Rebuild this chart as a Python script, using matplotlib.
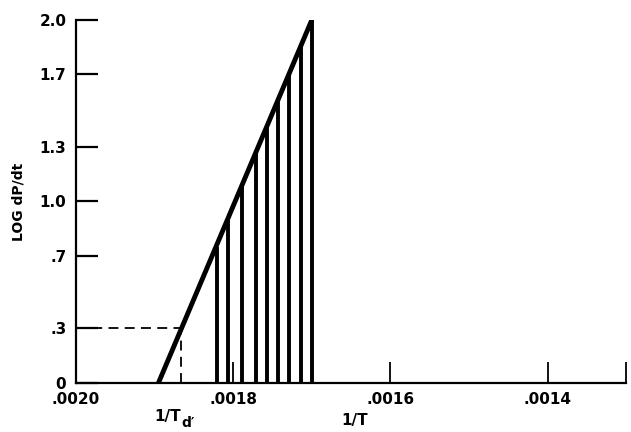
import matplotlib
matplotlib.use("Agg")
import matplotlib.pyplot as plt

# ==========================================
# DATA
# ==========================================

# sloped edge of the triangle (1/T, LOG dP/dt)
edge_x = [0.001895, 0.0017]
edge_y = [0.0, 2.0]

# vertical hatch lines under the edge
hatch_x = [0.001821, 0.001806, 0.001789, 0.001771, 0.001757,
           0.001743, 0.001729, 0.001714, 0.0017]
hatch_top = [0.75, 0.90, 1.08, 1.26, 1.41, 1.55, 1.70, 1.85, 2.0]

# dashed guide to 1/Td'
td_x = 0.001866
td_y = 0.3

x_ticks = [0.0018, 0.0016, 0.0014, 0.0013]
x_labels = [".0020", ".0018", ".0016", ".0014"]
x_label_pos = [0.0020, 0.0018, 0.0016, 0.0014]

y_ticks = [0, 0.3, 0.7, 1.0, 1.3, 1.7, 2.0]
y_labels = ["0", ".3", ".7", "1.0", "1.3", "1.7", "2.0"]

# ==========================================
# FIGURE
# ==========================================

fig = plt.figure(figsize=(6.31, 4.32), dpi=100)
ax = fig.add_axes([0.1204, 0.114, 0.872, 0.8397])

ax.plot(edge_x, edge_y, color="black", lw=3.5, solid_capstyle="butt", zorder=3)
ax.vlines(hatch_x, 0, hatch_top, color="black", lw=2.8, zorder=2)

ax.plot([0.0020, td_x], [td_y, td_y], color="black", lw=1.3,
        ls=(0, (5.5, 3.5)), zorder=1)
ax.plot([td_x, td_x], [0, td_y], color="black", lw=1.3,
        ls=(0, (5.5, 3.5)), zorder=1)

ax.set_xlim(0.0020, 0.0013)
ax.set_ylim(0, 2.0)

for s in ["top", "right"]:
    ax.spines[s].set_visible(False)
for s in ["left", "bottom"]:
    ax.spines[s].set_linewidth(1.6)

# x ticks: short marks pointing up, labels placed separately
ax.set_xticks(x_ticks)
ax.set_xticklabels([])
ax.tick_params(axis="x", direction="in", length=15, width=1.3)
for xv, lab in zip(x_label_pos, x_labels):
    ax.text(xv, -0.05, lab, ha="center", va="top", fontsize=11,
            fontweight="bold")

ax.set_yticks(y_ticks)
ax.set_yticklabels(y_labels, fontsize=11, fontweight="bold")
ax.tick_params(axis="y", direction="in", length=16, width=1.6, pad=7)

ax.set_ylabel("LOG dP/dt", fontsize=10, fontweight="bold", labelpad=10)

ax.text(td_x, -0.145, "1/T", ha="right", va="top",
        fontsize=11, fontweight="bold")
ax.text(td_x, -0.185, "d\u2032", ha="left", va="top",
        fontsize=10, fontweight="bold")
ax.text(0.001646, -0.165, "1/T", ha="center", va="top",
        fontsize=11, fontweight="bold")

fig.savefig("out.png", dpi=100)
